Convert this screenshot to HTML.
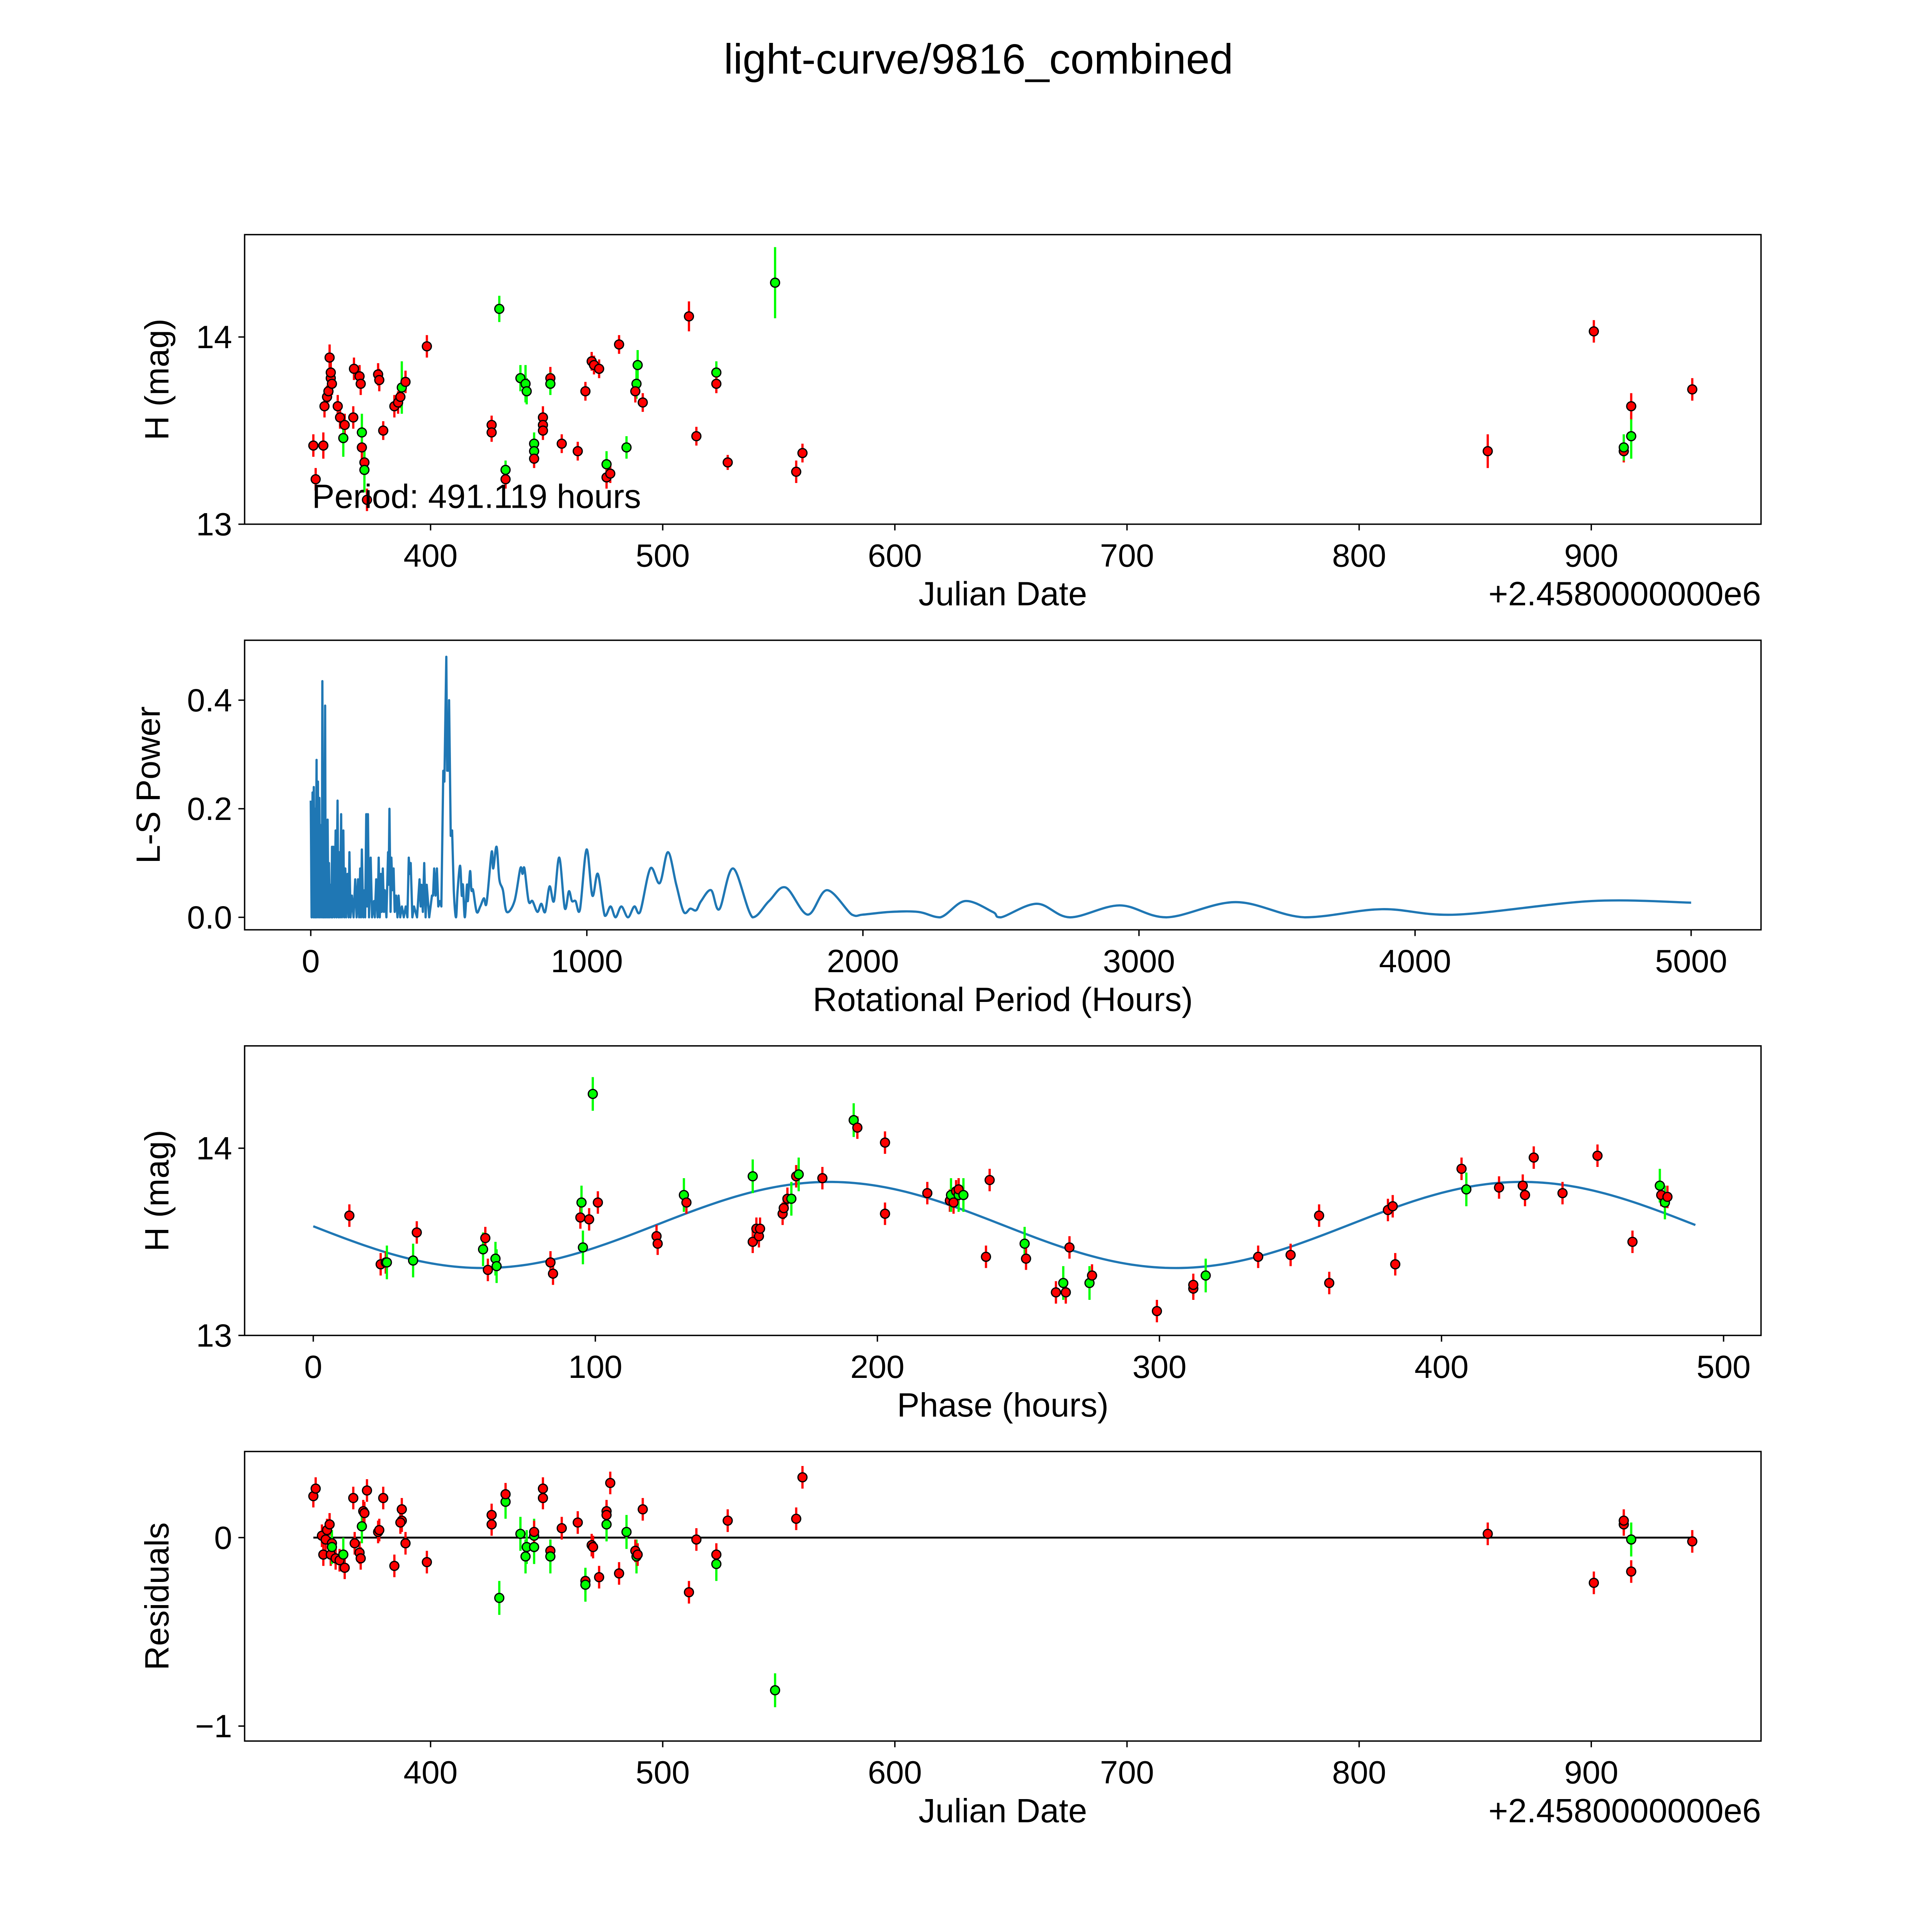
<!DOCTYPE html>
<html><head><meta charset="utf-8"><style>
html,body{margin:0;padding:0;background:#fff;overflow:hidden;width:100vw;height:100vh;}
svg{display:block;position:fixed;left:0;top:0;width:100vw;height:100vh;}
text{font-family:"Liberation Sans","DejaVu Sans",sans-serif;fill:#000;}
</style></head><body>
<svg id="fig" viewBox="0 0 1548 1548" preserveAspectRatio="none" xmlns="http://www.w3.org/2000/svg">
<rect x="0" y="0" width="1548" height="1548" fill="#fff"/>
<text x="784" y="59" font-size="34" text-anchor="middle">light-curve/9816_combined</text>
<g id="g1"></g>
<g id="g2"></g>
<g id="g3"></g>
<g id="g4"></g>
</svg>
<script>
// Panel 1: light curve
const jd1=[349.5,350.5,353.8,354.3,355.4,356,357,357,356.5,357.5,360,361,363,362.4,366.7,367,369.4,369.9,370.4,370.4,371.5,371.5,372.6,377.4,377.9,379.6,384.4,386,387,387.6,389.2,398.4,426.3,426.3,429.6,432.3,432.3,438.7,440.9,441.4,444.6,444.6,444.6,448.4,448.4,448.4,451.6,451.6,456.5,463.4,466.7,469.4,470.4,472.6,475.8,475.8,477.4,481.2,484.4,488.7,488.2,489.2,491.4,511.3,514.5,523.1,523.1,528,548.4,557.5,560.2,855.4,901.1,914,914,917.2,917.2,943.5];
const mag1=[13.42,13.24,13.42,13.63,13.68,13.71,13.78,13.81,13.89,13.75,13.63,13.57,13.53,13.46,13.57,13.83,13.79,13.75,13.41,13.49,13.33,13.29,13.13,13.8,13.77,13.5,13.63,13.65,13.68,13.73,13.76,13.95,13.53,13.49,14.15,13.29,13.24,13.78,13.75,13.71,13.43,13.39,13.35,13.57,13.53,13.5,13.78,13.75,13.43,13.39,13.71,13.87,13.85,13.83,13.32,13.25,13.27,13.96,13.41,13.75,13.71,13.85,13.65,14.11,13.47,13.81,13.75,13.33,14.29,13.28,13.38,13.39,14.03,13.39,13.41,13.47,13.63,13.72];
const err1=[0.06,0.06,0.07,0.06,0.06,0.06,0.06,0.06,0.07,0.06,0.06,0.06,0.06,0.1,0.06,0.06,0.06,0.06,0.06,0.1,0.06,0.12,0.06,0.06,0.06,0.05,0.06,0.06,0.06,0.14,0.06,0.06,0.05,0.05,0.07,0.05,0.05,0.07,0.1,0.07,0.06,0.06,0.05,0.06,0.06,0.05,0.06,0.06,0.05,0.05,0.05,0.05,0.05,0.05,0.07,0.06,0.05,0.05,0.06,0.08,0.06,0.08,0.05,0.08,0.05,0.06,0.05,0.04,0.19,0.06,0.05,0.09,0.06,0.06,0.07,0.12,0.07,0.06];
const col1=['r','r','r','r','r','r','r','r','r','r','r','r','r','g','r','r','r','r','r','g','r','g','r','r','r','r','r','r','r','g','r','r','r','r','g','g','r','g','g','g','g','g','r','r','r','r','r','g','r','r','r','r','r','r','g','r','r','r','g','g','r','g','r','r','r','g','r','r','g','r','r','r','r','r','g','g','r','r'];

// Panel 2: periodogram
const per2=[0,3,6.5,9,11,14,16,18,21,23,26,29,31,34,37,40,42,45,47,49,52,54,56,59,61,64,66,69,72,75,77,79,82,86,90,93,97,100,103,106,110,113,118,121,125,128,133,137,140,144,149,155,161,166,171,175,179,182,185,190,195,197,201,204,207,211,217,222,229,232,237,242,246,250,254,257,261,265,268,274,280,282,285,289,292,296,300,304,309,314,318,324,330,337,344,350,355,359,362,368,374,385,394,398,401,406,411,416,420,429,439,443,447,452,457,462,468,473,480,484,491,494,496,499,501,507,512,518,526,532,541,547,551,558,566,569,577,582,588,601,614,627,637,655,661,673,683,696,710,738,759,767,774,789,803,821,835,849,865,881,900,920,935,946,959,975,999,1020,1040,1065,1086,1104,1125,1149,1172,1193,1230,1264,1294,1324,1351,1375,1396,1414,1450,1480,1530,1600,1660,1720,1800,1870,1960,2000,2100,2200,2280,2370,2470,2500,2630,2750,2930,3100,3350,3600,3880,4150,4640,5000];
const pow2=[0.215,0,0.23,0,0.24,0,0.2,0,0.29,0,0.25,0,0.22,0,0.17,0,0.435,0,0.1,0,0.39,0,0.12,0,0.18,0,0.1,0,0.06,0,0.13,0,0.13,0,0.16,0,0.215,0,0.12,0,0.19,0,0.16,0,0.09,0,0.08,0,0.12,0,0.04,0,0.07,0,0.07,0,0.09,0,0.125,0,0.05,0,0.19,0.02,0.19,0,0.11,0,0.03,0,0.07,0,0.11,0,0.08,0.01,0.09,0.01,0.05,0,0.12,0.06,0.2,0.01,0.11,0.05,0.09,0.01,0.04,0,0.04,0,0.02,0,0.02,0,0.11,0.08,0.1,0,0.02,0,0.07,0.02,0.06,0.01,0.1,0,0.06,0,0.04,0.04,0.09,0.04,0.09,0.02,0.03,0.02,0.27,0.25,0.48,0.27,0.28,0.27,0.4,0.15,0.16,0.05,0,0.05,0.095,0.04,0.06,0,0.06,0.03,0.085,0.05,0.05,0.01,0.02,0.035,0.027,0.12,0.09,0.13,0.07,0.05,0.01,0.03,0.09,0.08,0.09,0.03,0.03,0.01,0.025,0.01,0.057,0.03,0.11,0.017,0.048,0.03,0.03,0.014,0.125,0.04,0.08,0.003,0.02,0,0.02,0,0.02,0.01,0.09,0.063,0.12,0.06,0.01,0.016,0.013,0.03,0.05,0.015,0.09,0,0.03,0.055,0.005,0.05,0.005,0.005,0.01,0.01,0,0.03,0.01,0,0.025,0,0.022,0,0.028,0,0.015,0.005,0.03,0.027];

// Panel 3: phase folded
const ph3=[12.8,23.9,25.7,26.1,35.4,36.7,60.2,61,61.9,64.6,65,84.1,85,94.7,95.1,95.6,97.8,99.1,100.9,121.7,122.1,131.4,132.3,155.8,155.8,157.1,158,158.4,166.4,166.8,168.1,169.5,171.2,172.1,180.5,191.6,192.9,202.7,202.7,217.7,225.7,226.1,227,227.9,228.8,228.8,230.5,238.5,239.8,252.2,252.7,263.3,265.9,266.8,268.1,275.2,276.1,299.1,312,312,316.4,335,346.5,356.6,360.2,381,382.7,383.6,407.1,408.8,420.4,428.8,429.6,432.7,442.9,455.3,467.7,477.4,477.9,479.2,480.1];
const mag3=[13.64,13.38,13.39,13.39,13.4,13.55,13.46,13.52,13.35,13.41,13.37,13.39,13.33,13.63,13.71,13.47,13.62,14.29,13.71,13.53,13.49,13.75,13.71,13.85,13.5,13.57,13.53,13.57,13.65,13.68,13.73,13.73,13.85,13.86,13.84,14.15,14.11,13.65,14.03,13.76,13.72,13.75,13.71,13.77,13.75,13.78,13.75,13.42,13.83,13.49,13.41,13.23,13.28,13.23,13.47,13.28,13.32,13.13,13.25,13.27,13.32,13.42,13.43,13.64,13.28,13.67,13.69,13.38,13.89,13.78,13.79,13.8,13.75,13.95,13.76,13.96,13.5,13.8,13.75,13.71,13.74];
const col3=['r','r','r','g','g','r','g','r','r','g','g','r','r','r','g','g','r','g','r','r','r','g','r','g','r','r','r','r','r','r','r','g','r','g','r','g','r','r','r','r','r','g','r','r','g','r','g','r','r','g','r','r','g','r','r','g','r','r','r','r','g','r','r','r','r','r','r','r','r','g','r','r','r','r','r','r','r','g','r','g','r'];
const fitMean=[13.59], fitAmp=[0.23], fitPeak=[183], fitPeriod=[491.119];

// Panel 4: residuals
const jd4=[349.5,350.5,353.2,353.8,354.8,355.4,356.5,357,357.5,357.5,359.1,360.8,362.4,363,366.7,367.3,369.4,369.9,370.4,371,371.5,372.6,377.4,377.9,379.6,384.4,387.6,387.6,387,389.2,398.4,426.3,426.3,429.6,432.3,432.3,438.7,440.9,441.4,444.6,444.6,444.6,448.4,448.4,451.6,451.6,456.5,463.4,466.7,466.7,469.4,470,472.6,475.8,475.8,475.8,477.4,481.2,484.4,488.7,488.2,489.2,491.4,511.3,514.5,523.1,523.1,528,548.4,557.5,560.2,855.4,901.1,914,914,917.2,917.2,943.5];
const res4=[0.22,0.26,0.01,-0.09,-0.01,0.04,0.07,-0.09,-0.03,-0.05,-0.11,-0.12,-0.09,-0.16,0.21,-0.03,-0.08,-0.11,0.06,0.14,0.13,0.25,0.03,0.04,0.21,-0.15,0.15,0.09,0.08,-0.03,-0.13,0.12,0.07,-0.32,0.19,0.23,0.02,-0.1,-0.05,-0.05,0.01,0.03,0.26,0.21,-0.07,-0.1,0.05,0.08,-0.23,-0.25,-0.04,-0.05,-0.21,0.07,0.14,0.12,0.29,-0.19,0.03,-0.1,-0.07,-0.09,0.15,-0.29,-0.01,-0.14,-0.09,0.09,-0.81,0.1,0.32,0.02,-0.24,0.07,0.09,-0.01,-0.18,-0.02];
const col4=['r','r','r','r','r','r','r','r','r','g','r','r','g','r','r','r','r','r','g','r','r','r','r','r','r','r','r','r','r','r','r','r','r','g','g','r','g','g','g','g','g','r','r','r','r','g','r','r','r','g','r','r','r','g','r','r','r','r','g','g','r','r','r','r','r','g','r','r','g','r','r','r','r','r','r','g','r','r'];

const NS='http://www.w3.org/2000/svg';
function mk(parent,tag,attrs){const e=document.createElementNS(NS,tag);for(const k in attrs)e.setAttribute(k,attrs[k]);parent.appendChild(e);return e;}
const RED='#ff0000', GRN='#00ff00', LINE='#1f77b4';

const P1={l:196,t:188,r:1411,b:420};
const x1=v=>345+(v-400)*1.86, y1=v=>420-(v-13)*150;
const P2={l:196,t:513,r:1411,b:745};
const x2=v=>249+v*0.2212, y2=v=>735-v*435;
const P3={l:196,t:838,r:1411,b:1070};
const x3=v=>251+v*2.26, y3=v=>1070-(v-13)*150;
const P4={l:196,t:1163,r:1411,b:1395};
const x4=x1, y4=v=>1232-v*151;

function frame(g,P){
  const r=mk(g,'rect',{x:P.l,y:P.t,width:P.r-P.l,height:P.b-P.t,fill:'none',stroke:'#000','stroke-width':1.1});
  
  
}
function xticks(g,P,vals,fx,labels){
  vals.forEach((v,i)=>{
    const X=fx(v);
    const t=mk(g,'line',{x1:X,x2:X,y1:P.b,y2:P.b+5,stroke:'#000','stroke-width':1.1});
    
    
    const s=mk(g,'text',{x:X,y:P.b+34,'font-size':26,'text-anchor':'middle'});
    s.textContent=labels[i];
    
    
  });
}
function yticks(g,P,vals,fy,labels){
  vals.forEach((v,i)=>{
    const Y=fy(v);
    const t=mk(g,'line',{x1:P.l-5,x2:P.l,y1:Y,y2:Y,stroke:'#000','stroke-width':1.1});
    
    
    const s=mk(g,'text',{x:P.l-10,y:Y+9,'font-size':26,'text-anchor':'end'});
    s.textContent=labels[i];
    
    
  });
}
function xlabel(g,P,txt,name){
  const s=mk(g,'text',{x:(P.l+P.r)/2,y:P.b+65,'font-size':27,'text-anchor':'middle'});
  s.textContent=txt;
  
  
}
function ylabel(g,P,txt,x,name){
  const cy=(P.t+P.b)/2;
  const s=mk(g,'text',{x:x,y:cy,'font-size':27,'text-anchor':'middle',transform:`rotate(-90 ${x} ${cy})`});
  s.textContent=txt;
  
  
}
function offsetText(g,P){
  const s=mk(g,'text',{x:P.r,y:P.b+65,'font-size':27,'text-anchor':'end'});
  s.textContent='+2.4580000000e6';
  
  
}
function points(g,xs,ys,errs,cols,fx,fy,name){
  xs.forEach((xv,i)=>{
    const X=fx(xv);
    const e=errs?errs[i]:(cols[i]==='g'?0.09:0.06);
    const c=cols[i]==='g'?GRN:RED;
    const b=mk(g,'line',{x1:X,x2:X,y1:fy(ys[i]+e),y2:fy(ys[i]-e),stroke:c,'stroke-width':1.8});
    
    
  });
  xs.forEach((xv,i)=>{
    const c=cols[i]==='g'?GRN:RED;
    const p=mk(g,'circle',{cx:fx(xv),cy:fy(ys[i]),r:3.6,fill:c,stroke:'#000','stroke-width':1});
    
    
  });
}

const g1=document.getElementById('g1');
frame(g1,P1);
xticks(g1,P1,[400,500,600,700,800,900],x1,['400','500','600','700','800','900']);
yticks(g1,P1,[13,14],y1,['13','14']);
xlabel(g1,P1,'Julian Date','x-axis-title');
offsetText(g1,P1);
ylabel(g1,P1,'H (mag)',135,'y-axis-title');
points(g1,jd1,mag1,err1,col1,x1,y1,'observation');
const pt=mk(g1,'text',{x:250,y:407,'font-size':27});
pt.textContent='Period: 491.119 hours';



const g2=document.getElementById('g2');
frame(g2,P2);
xticks(g2,P2,[0,1000,2000,3000,4000,5000],x2,['0','1000','2000','3000','4000','5000']);
yticks(g2,P2,[0,0.2,0.4],y2,['0.0','0.2','0.4']);
xlabel(g2,P2,'Rotational Period (Hours)','x-axis-title');
ylabel(g2,P2,'L-S Power',128,'y-axis-title');
// dense part straight segments, smooth part Catmull-Rom
const pts=per2.map((p,i)=>[x2(p),y2(pow2[i])]);
let d='M'+pts[0][0].toFixed(2)+','+pts[0][1].toFixed(2);
for(let i=1;i<pts.length;i++){
  if(per2[i]<=520){d+=' L'+pts[i][0].toFixed(2)+','+pts[i][1].toFixed(2);continue;}
  const p0=pts[Math.max(0,i-2)],p1=pts[i-1],p2=pts[i],p3=pts[Math.min(pts.length-1,i+1)];
  const c1x=p1[0]+(p2[0]-p0[0])/6,c1y=Math.min(735,p1[1]+(p2[1]-p0[1])/6);
  const c2x=p2[0]-(p3[0]-p1[0])/6,c2y=Math.min(735,p2[1]-(p3[1]-p1[1])/6);
  d+=' C'+c1x.toFixed(2)+','+c1y.toFixed(2)+' '+c2x.toFixed(2)+','+c2y.toFixed(2)+' '+p2[0].toFixed(2)+','+p2[1].toFixed(2);
}
const pl=mk(g2,'path',{d:d,fill:'none',stroke:LINE,'stroke-width':1.8,'stroke-linejoin':'round'});



const g3=document.getElementById('g3');
frame(g3,P3);
xticks(g3,P3,[0,100,200,300,400,500],x3,['0','100','200','300','400','500']);
yticks(g3,P3,[13,14],y3,['13','14']);
xlabel(g3,P3,'Phase (hours)','x-axis-title');
ylabel(g3,P3,'H (mag)',135,'y-axis-title');
const fit=[];
for(let p=0;p<=fitPeriod[0];p+=2){fit.push(x3(p).toFixed(2)+','+y3(fitMean[0]+fitAmp[0]*Math.cos(4*Math.PI*(p-fitPeak[0])/fitPeriod[0])).toFixed(2));}
const fl=mk(g3,'polyline',{points:fit.join(' '),fill:'none',stroke:LINE,'stroke-width':1.8});


points(g3,ph3,mag3,null,col3,x3,y3,'phased-observation');

const g4=document.getElementById('g4');
frame(g4,P4);
xticks(g4,P4,[400,500,600,700,800,900],x4,['400','500','600','700','800','900']);
yticks(g4,P4,[-1,0],y4,['\u22121','0']);
xlabel(g4,P4,'Julian Date','x-axis-title');
offsetText(g4,P4);
ylabel(g4,P4,'Residuals',135,'y-axis-title');
const zl=mk(g4,'line',{x1:x4(349.5),x2:x4(943.5),y1:y4(0),y2:y4(0),stroke:'#000','stroke-width':1.5});


points(g4,jd4,res4,null,col4,x4,y4,'residual');
</script>
</body></html>
